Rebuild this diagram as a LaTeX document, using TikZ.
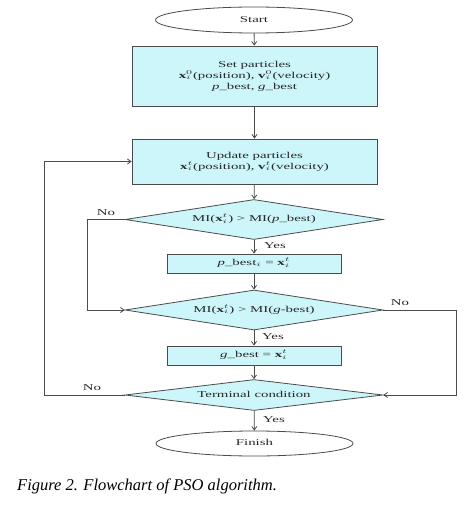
\documentclass[tikz,border=0pt]{standalone}
\usepackage{fontspec}
\setmainfont{Liberation Serif}
\usepackage{graphicx}
\usetikzlibrary{shapes.geometric,arrows.meta}
\definecolor{boxfill}{RGB}{204,246,250}
\definecolor{linec}{RGB}{75,75,75}
\definecolor{textc}{RGB}{40,40,40}
\newcommand\wtxt[1]{\scalebox{1.65}[1]{\begin{tabular}{@{}c@{}}#1\end{tabular}}}
\newcommand\bxx{\textbf{x}}
\newcommand\bvv{\textbf{v}}
\begin{document}
\begin{tikzpicture}[x=1pt,y=-1pt,
  every node/.style={font=\fontsize{9}{11}\selectfont, text=textc},
  procbox/.style={draw=linec, fill=boxfill, rectangle, inner sep=0pt, line width=0.8pt},
  decision/.style={draw=linec, fill=boxfill, diamond, shape aspect=6.5, inner sep=0pt, line width=0.8pt, minimum width=258pt},
  term/.style={draw=linec, ellipse, inner sep=0pt, line width=0.8pt, minimum width=197pt, minimum height=26pt},
  flow/.style={draw=linec, line width=0.8pt, -{Straight Barb[length=3.5pt,width=5pt]}},
  lbl/.style={inner sep=0pt}]
\useasboundingbox (0,0) rectangle (467,513);
\fill[white] (0,0) rectangle (467,513);
\node[term] (start) at (254,20) {\wtxt{Start}};
\node[procbox, minimum width=245pt, minimum height=60pt] (set) at (254.5,76)
  {\wtxt{Set particles\\ \bxx$_i^0$(position), \bvv$_i^0$(velocity)\\ \textit{p}\_best, \textit{g}\_best}};
\node[procbox, minimum width=245pt, minimum height=45pt] (upd) at (254.5,161.5)
  {\wtxt{Update particles\\ \bxx$_i^t$(position), \bvv$_i^t$(velocity)}};
\node[decision, minimum height=40pt] (d1) at (254,219.5)
  {\wtxt{MI(\bxx$_i^t$) > MI(\textit{p}\_best)}};
\node[procbox, minimum width=174pt, minimum height=19pt] (pb) at (254,263.5)
  {\wtxt{\textit{p}\_best$_i$ = \bxx$_i^t$}};
\node[decision, minimum height=40pt] (d2) at (254,310)
  {\wtxt{MI(\bxx$_i^t$) > MI(\textit{g}-best)}};
\node[procbox, minimum width=174pt, minimum height=19pt] (gb) at (254,355.5)
  {\wtxt{\textit{g}\_best = \bxx$_i^t$}};
\node[decision, minimum height=31pt] (tc) at (254,395)
  {\wtxt{Terminal condition}};
\node[term, minimum height=25pt] (fin) at (254.5,443.5) {\wtxt{Finish}};

\draw[flow] (start) -- (set);
\draw[flow] (set) -- (upd);
\draw[flow] (upd) -- (d1);
\draw[flow] (d1) -- (pb);
\draw[flow] (pb) -- (d2);
\draw[flow] (d2) -- (gb);
\draw[flow] (gb) -- (tc);
\draw[flow] (tc) -- (fin);
\draw[flow] (tc.west) -- ++(-80,0) |- (upd.west);
\draw[flow] (d1.west) -- ++(-37,0) |- (d2.west);
\draw[flow] (d2.east) -- ++(73,0) |- (tc.east);

\node[lbl] (no1) at (106,213) {\wtxt{No}};
\node[lbl] (no2) at (400,303) {\wtxt{No}};
\node[lbl] (no3) at (92,388) {\wtxt{No}};
\node[lbl] (yes1) at (275,246) {\wtxt{Yes}};
\node[lbl] (yes2) at (273,337) {\wtxt{Yes}};
\node[lbl] (yes3) at (274,420) {\wtxt{Yes}};

\node[anchor=base west, inner sep=0pt, text=black, font=\fontsize{16.5}{18}\selectfont\itshape] (cap) at (17,490)
  {Figure 2. Flowchart of PSO algorithm.};
\end{tikzpicture}
\end{document}
